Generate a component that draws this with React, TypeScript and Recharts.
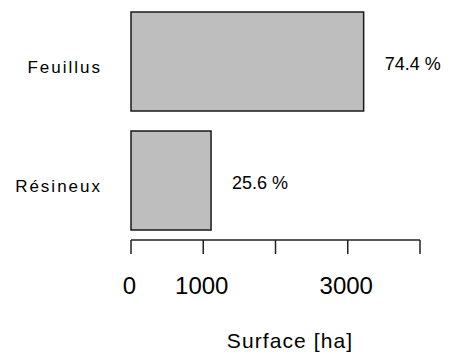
import { Bar, BarChart, LabelList, XAxis, YAxis } from 'recharts';

const categories = ['Feuillus', 'Résineux'];
const surfaceHa = [3220, 1108];
const shareLabels = ['74.4 %', '25.6 %'];

const xTicks = [0, 1000, 2000, 3000, 4000];
const xTickLabels = ['0', '1000', '', '3000', ''];

const FONT = '"Liberation Sans", Arial, sans-serif';

const data = categories.map((name, i) => ({
  name,
  surface: surfaceHa[i],
  share: shareLabels[i],
}));

function CategoryTick(props: any) {
  const { x, y, payload } = props;
  return (
    <text
      x={x - 29}
      y={y + 11}
      textAnchor="end"
      fontFamily={FONT}
      fontSize={17}
      letterSpacing={2}
      fill="#000"
    >
      {payload.value}
    </text>
  );
}

function ValueTick(props: any) {
  const { x, y, payload } = props;
  const label = xTickLabels[xTicks.indexOf(payload.value)];
  if (!label) return null;
  return (
    <text
      x={x - 1.5}
      y={y + 40}
      textAnchor="middle"
      fontFamily={FONT}
      fontSize={24}
      fill="#000"
    >
      {label}
    </text>
  );
}

function AxisTitle(props: any) {
  const { viewBox } = props;
  return (
    <text
      x={viewBox.x + viewBox.width / 2 + 14.5}
      y={viewBox.y + 108}
      textAnchor="middle"
      fontFamily={FONT}
      fontSize={21}
      letterSpacing={1.1}
      fill="#000"
    >
      Surface [ha]
    </text>
  );
}

function ShareLabel(props: any) {
  const { x, y, width, height, value } = props;
  return (
    <text
      x={x + width + 21}
      y={y + height / 2 + 8}
      fontFamily={FONT}
      fontSize={18}
      fill="#000"
    >
      {value}
    </text>
  );
}

export default function App() {
  return (
    <div
      style={{
        position: 'absolute',
        left: 0,
        top: 0,
        width: 451,
        height: 354,
        background: '#fff',
      }}
    >
      <BarChart
        width={451}
        height={354}
        data={data}
        layout="vertical"
        margin={{ top: 2, right: 31, left: 0, bottom: 0 }}
      >
        <XAxis
          type="number"
          dataKey="surface"
          domain={[0, 4000]}
          ticks={xTicks}
          interval={0}
          height={114}
          tickSize={14}
          tickMargin={0}
          stroke="#222"
          strokeWidth={1.5}
          tick={<ValueTick />}
          label={<AxisTitle />}
        />
        <YAxis
          type="category"
          dataKey="name"
          width={131}
          axisLine={false}
          tickLine={false}
          tickSize={0}
          tickMargin={0}
          tick={<CategoryTick />}
        />
        <Bar
          dataKey="surface"
          fill="#bebebe"
          stroke="#1a1a1a"
          strokeWidth={1.5}
          barSize={99}
          isAnimationActive={false}
        >
          <LabelList dataKey="share" content={<ShareLabel />} />
        </Bar>
      </BarChart>
    </div>
  );
}
